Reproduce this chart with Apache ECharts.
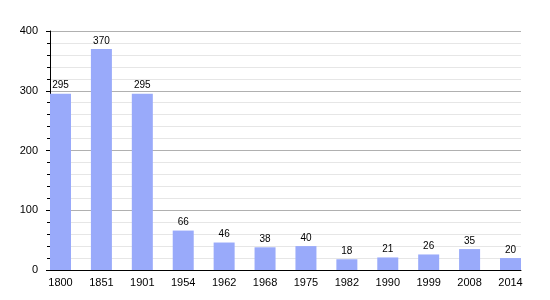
<!DOCTYPE html>
<html><head><meta charset="utf-8">
<script src="https://cdn.jsdelivr.net/npm/echarts@6/dist/echarts.min.js"></script>
<style>html,body{margin:0;padding:0;background:#fff}#c{width:550px;height:300px}</style>
</head><body><div id="c"></div>
<script>
const categories = ['1800','1851','1901','1954','1962','1968','1975','1982','1990','1999','2008','2014'];
const population = [295, 370, 295, 66, 46, 38, 40, 18, 21, 26, 35, 20];
const yTicks = [0, 100, 200, 300, 400];

const font = 'Liberation Sans, Arial, sans-serif';
const chart = echarts.init(document.getElementById('c'), null, {renderer: 'canvas'});
chart.setOption({
  animation: false,
  grid: [
    {left: 60.5, width: 450, top: 31, height: 239},
    {left: 50, width: 471, top: 31, height: 239}
  ],
  xAxis: [
    {type: 'category', gridIndex: 0, data: categories, boundaryGap: false,
     axisLine: {show: false}, axisTick: {show: false},
     axisLabel: {color: '#000', fontFamily: font, fontSize: 11, margin: 7, interval: 0}},
    {type: 'value', gridIndex: 1, min: 0, max: 1, show: true,
     axisLine: {show: true, lineStyle: {color: '#000', width: 1}},
     axisTick: {show: false}, axisLabel: {show: false}, splitLine: {show: false}}
  ],
  yAxis: [
    {type: 'value', gridIndex: 0, min: yTicks[0], max: yTicks[yTicks.length-1], interval: 100,
     show: false, splitLine: {show: false}},
    {type: 'value', gridIndex: 1, min: yTicks[0], max: yTicks[yTicks.length-1], interval: 100,
     axisLine: {show: true, lineStyle: {color: '#000'}},
     axisTick: {show: true, length: 4, lineStyle: {color: '#000'}},
     minorTick: {show: true, splitNumber: 5, length: 3, lineStyle: {color: '#000'}},
     axisLabel: {color: '#000', fontFamily: font, fontSize: 11, margin: 12},
     splitLine: {show: true, lineStyle: {color: '#b0b0b0', width: 1}},
     minorSplitLine: {show: true, lineStyle: {color: '#e6e6e6', width: 1}}}
  ],
  series: [{
    type: 'bar', xAxisIndex: 0, yAxisIndex: 0, data: population, barWidth: 21,
    itemStyle: {color: '#99aafa'},
    label: {show: true, position: 'top', distance: 3, color: '#000', fontFamily: font, fontSize: 10},
    z: 5
  }]
});
</script></body></html>
